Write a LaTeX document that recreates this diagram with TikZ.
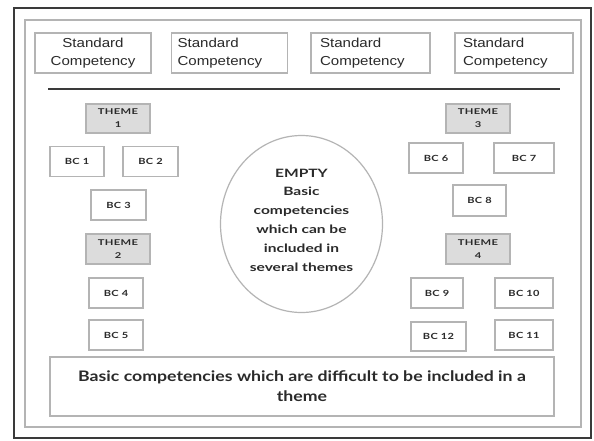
\documentclass[tikz,border=0pt]{standalone}
\usepackage{fontspec}
\setmainfont{Liberation Sans}
\newfontfamily\scfont[FakeStretch=1.16]{Liberation Sans}
\newfontfamily\bcfont[FakeStretch=1.3,LetterSpace=4]{Lato}
\newfontfamily\thfont[FakeStretch=1.4,LetterSpace=4]{Lato}
\newfontfamily\elfont[FakeStretch=1.35]{Lato}
\newfontfamily\botfont[FakeStretch=1.22]{Lato}
\usetikzlibrary{shapes.geometric}
\definecolor{frame}{HTML}{3A3A3A}
\definecolor{boxline}{HTML}{B4B4B4}
\definecolor{themefill}{HTML}{DCDCDC}
\definecolor{txt}{HTML}{2A2A2A}
\tikzset{
  sc/.style={draw=boxline, line width=1.2pt, minimum width=#1, minimum height=40pt, inner sep=0pt, font=\scfont\fontsize{13}{18.5}\selectfont, text=txt},
  bcbox/.style={draw=boxline, line width=1.2pt, minimum height=30pt, inner sep=0pt, font=\bcfont\bfseries\fontsize{8.5}{10}\selectfont, text=txt},
  themebox/.style={bcbox, fill=themefill, minimum width=64pt, align=center, font=\thfont\bfseries\fontsize{8}{13}\selectfont},
}
\begin{document}
\begin{tikzpicture}[x=1pt,y=-1pt]
\useasboundingbox (0,0) rectangle (594,440);
\fill[white] (0,0) rectangle (594,440);
% frames
\draw[frame, line width=2.2pt] (14,8) rectangle (591,438);
\draw[boxline, line width=1.2pt] (25,20) rectangle (581,427);
% standard competency
\node[sc=116pt, align=center] (s1) at (93,53) {Standard\\Competency};
\node[sc=116pt, align=left, text width=104pt] (s2) at (229.5,53) {Standard\\Competency};
\node[sc=119pt, align=left, text width=101pt] (s3) at (370.5,53) {Standard\\Competency};
\node[sc=118pt, align=left, text width=102pt] (s4) at (514,53) {Standard\\Competency};
% separator line
\coordinate (l1) at (48,89);
\coordinate (l2) at (560,89);
\draw[frame, line width=2pt] (l1) -- (l2);
% left side
\node[themebox, minimum height=29pt] (t1) at (118,118.5) {THEME\\1};
\node[bcbox, minimum width=54pt] (b1) at (77,161.5) {BC 1};
\node[bcbox, minimum width=55pt] (b2) at (150.5,161.5) {BC 2};
\node[bcbox, minimum width=55pt] (b3) at (118.5,205) {BC 3};
\node[themebox] (t2) at (118,249) {THEME\\2};
\node[bcbox, minimum width=54pt] (b4) at (116,293) {BC 4};
\node[bcbox, minimum width=54pt] (b5) at (116,335) {BC 5};
% right side
\node[themebox, minimum height=29pt] (t3) at (478,118.5) {THEME\\3};
\node[bcbox, minimum width=54pt] (b6) at (436,158) {BC 6};
\node[bcbox, minimum width=60pt] (b7) at (524,158) {BC 7};
\node[bcbox, minimum width=53pt, minimum height=31pt] (b8) at (479.5,200.5) {BC 8};
\node[themebox] (t4) at (478,249) {THEME\\4};
\node[bcbox, minimum width=52pt] (b9) at (437,293) {BC 9};
\node[bcbox, minimum width=58pt] (b10) at (524,293) {BC 10};
\node[bcbox, minimum width=55pt, minimum height=29pt] (b12) at (438.5,336.5) {BC 12};
\node[bcbox, minimum width=58pt] (b11) at (524,335) {BC 11};
% ellipse
\node[ellipse, draw=boxline, line width=1.2pt, minimum width=162pt, minimum height=177pt, inner sep=0pt] (e) at (301.5,224) {};
\node[align=center, text=txt, inner sep=0pt, font=\elfont\bfseries\fontsize{11.5}{18.8}\selectfont] (et) at (301.5,220) {EMPTY\\Basic\\competencies\\which can be\\included in\\several themes};
% bottom box
\node[draw=boxline, line width=1.2pt, minimum width=504pt, minimum height=59pt, inner sep=0pt, align=center, text=txt, font=\botfont\bfseries\fontsize{14.5}{20}\selectfont] (bot) at (302,386.5) {Basic competencies which are difficult to be included in a\\theme};
\end{tikzpicture}
\end{document}
